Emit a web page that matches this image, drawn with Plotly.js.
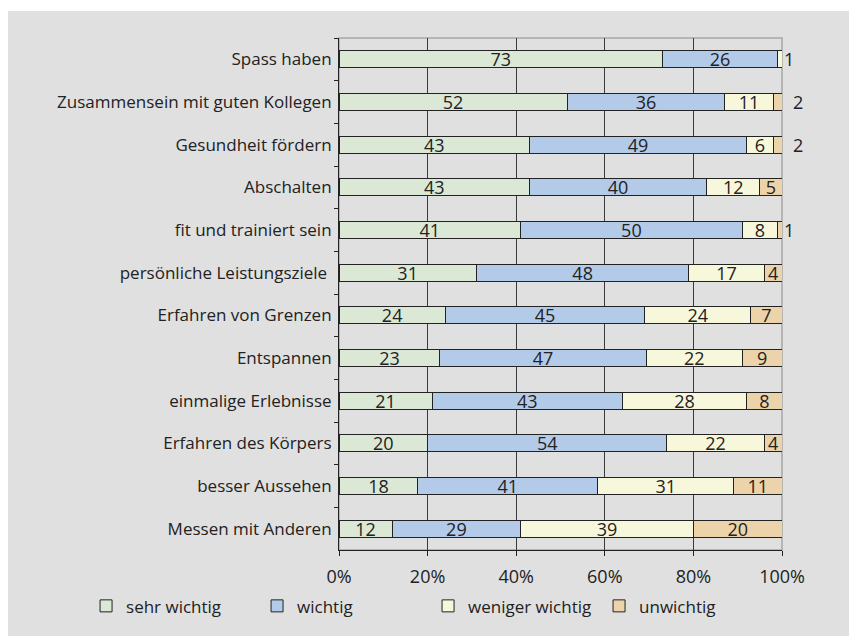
<!DOCTYPE html>
<html>
<head>
<meta charset="utf-8">
<script src="https://cdn.plot.ly/plotly-3.0.1.min.js"></script>
<style>
  html, body { margin: 0; padding: 0; background: #ffffff; }
  #chart { position: absolute; left: 8px; top: 11px; width: 841px; height: 625px; }
</style>
</head>
<body>
<div id="chart"></div>
<script>
const categories = [
  "Spass haben",
  "Zusammensein mit guten Kollegen",
  "Gesundheit fördern",
  "Abschalten",
  "fit und trainiert sein",
  "persönliche Leistungsziele\u00a0",
  "Erfahren von Grenzen",
  "Entspannen",
  "einmalige Erlebnisse",
  "Erfahren des Körpers",
  "besser Aussehen",
  "Messen mit Anderen"
];
const sehrWichtig    = [73, 52, 43, 43, 41, 31, 24, 23, 21, 20, 18, 12];
const wichtig        = [26, 36, 49, 40, 50, 48, 45, 47, 43, 54, 41, 29];
const wenigerWichtig = [ 1, 11,  6, 12,  8, 17, 24, 22, 28, 22, 31, 39];
const unwichtig      = [ 0,  2,  2,  5,  1,  4,  7,  9,  8,  4, 11, 20];

const seriesNames = ["sehr wichtig", "wichtig", "weniger wichtig", "unwichtig"];
const seriesValues = [sehrWichtig, wichtig, wenigerWichtig, unwichtig];
const seriesColors = ["#dbe8d6", "#b3cbe9", "#f7f7dc", "#ecd3aa"];

const tickValues = [0, 20, 40, 60, 80, 100];
const tickLabels = ["0%", "20%", "40%", "60%", "80%", "100%"];

const FONT = "Open Sans, sans-serif";
const INK = "#222222";

const traces = seriesValues.map((values, i) => ({
  type: "bar",
  orientation: "h",
  name: seriesNames[i],
  y: categories,
  x: values,
  text: values.map((v) => (v > 2 ? String(v) : "")),
  textposition: "inside",
  insidetextanchor: "middle",
  textangle: 0,
  constraintext: "none",
  textfont: { family: FONT, size: 18, color: INK },
  marker: { color: seriesColors[i], line: { color: INK, width: 1 } },
  hoverinfo: "skip"
}));

// tiny segments get their label just right of the bar end
const annotations = [];
categories.forEach((cat, row) => {
  const total = seriesValues.reduce((s, vals) => s + vals[row], 0);
  let cum = 0;
  seriesValues.forEach((vals) => {
    cum += vals[row];
    if (vals[row] > 0 && vals[row] <= 2) {
      annotations.push({
        x: (cum / total) * 100,
        y: cat,
        xref: "x",
        yref: "y",
        text: String(vals[row]),
        showarrow: false,
        xanchor: "left",
        xshift: vals[row] === 1 ? 0 : 9,
        font: { family: FONT, size: 18, color: INK }
      });
    }
  });
});

const layout = {
  width: 841,
  height: 625,
  margin: { l: 331, r: 67, t: 27, b: 81 },
  paper_bgcolor: "#e0e0e0",
  plot_bgcolor: "#e0e0e0",
  font: { family: FONT, size: 17, color: INK },
  barmode: "stack",
  barnorm: "percent",
  bargap: 0.6,
  showlegend: true,
  xaxis: {
    range: [0, 100],
    tickmode: "array",
    tickvals: tickValues,
    ticktext: tickLabels,
    tickfont: { family: FONT, size: 18, color: INK },
    ticklabelstandoff: 5,
    showgrid: true,
    gridcolor: "#3a3a3a",
    gridwidth: 1,
    zeroline: false,
    showline: true,
    linecolor: INK,
    linewidth: 1,
    ticks: "outside",
    ticklen: 5,
    tickcolor: INK,
    fixedrange: true
  },
  yaxis: {
    type: "category",
    autorange: "reversed",
    tickfont: { family: FONT, size: 17, color: INK },
    showgrid: false,
    zeroline: false,
    showline: true,
    linecolor: INK,
    linewidth: 1,
    ticks: "outside",
    tickson: "boundaries",
    ticklen: 4,
    tickcolor: INK,
    ticklabelstandoff: 3,
    fixedrange: true
  },
  shapes: [
    {
      type: "rect",
      xref: "paper", yref: "paper",
      x0: 0, x1: 1, y0: 0, y1: 1,
      line: { color: "#a6a6a6", width: 1.5 },
      layer: "below"
    }
  ],
  annotations: annotations,
  legend: {
    orientation: "h",
    x: -0.571,
    xanchor: "left",
    y: -0.11,
    yanchor: "middle",
    traceorder: "normal",
    entrywidth: 126,
    itemwidth: 30,
    font: { family: FONT, size: 17, color: INK },
    bgcolor: "rgba(0,0,0,0)"
  }
};

Plotly.newPlot("chart", traces, layout, { displayModeBar: false, staticPlot: true });
</script>
</body>
</html>
